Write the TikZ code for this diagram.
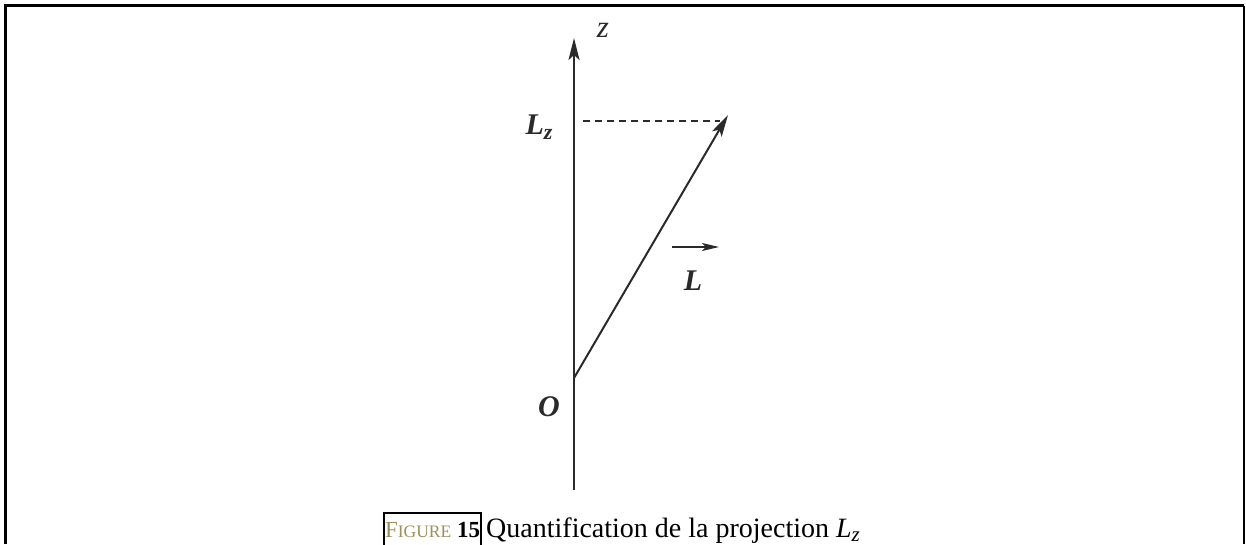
\documentclass[tikz,border=0pt]{standalone}
\usepackage{fontspec}
\setmainfont{Liberation Serif}
\usetikzlibrary{arrows.meta}
\definecolor{axisgray}{HTML}{2A2A2A}
\definecolor{figgold}{HTML}{9C8F5C}
\tikzset{
  axisline/.style={draw=axisgray, line width=2.4pt},
  arrowtip/.style={-{Stealth[length=22pt,width=11pt,inset=5pt]}},
  lbl/.style={font=\fontsize{30}{34}\selectfont\bfseries\itshape, text=axisgray, inner sep=0pt},
  frameline/.style={draw=black, line width=3pt}
}
\begin{document}
\begin{tikzpicture}[x=1pt,y=-1pt]
\useasboundingbox (0,0) rectangle (1246,544);
% outer frame (open at the bottom)
\coordinate (fbl) at (5.5,544);
\coordinate (ftl) at (5.5,5.5);
\coordinate (ftr) at (1244,5.5);
\coordinate (fbr) at (1244,544);
\draw[frameline] (fbl) -- (ftl) -- (ftr);
\draw[draw=black, line width=2pt] (ftr) -- (fbr);
% axis
\coordinate (zbot) at (574,490);
\coordinate (ztop) at (574,38);
\draw[axisline, arrowtip] (zbot) -- (ztop);
\node[font=\fontsize{31}{34}\selectfont\itshape, text=axisgray, inner sep=0pt] (zl) at (603,30) {z};
% origin and vector
\coordinate (O) at (574,378);
\coordinate (Ltip) at (728,115);
\draw[axisline, line width=2pt, arrowtip] (O) -- (Ltip);
\node[lbl] (Ol) at (549,407) {O};
% projection
\coordinate (dashs) at (583,121);
\coordinate (dashe) at (720,121);
\draw[axisgray, line width=2pt, dash pattern=on 7pt off 5pt] (dashs) -- (dashe);
\node[lbl] (Lz) at (539,127) {L\raisebox{-0.35ex}{\fontsize{22}{24}\selectfont z}};
% vector label
\coordinate (vs) at (672,247);
\coordinate (ve) at (719,247);
\draw[axisgray, line width=1.8pt, -{Stealth[length=17pt,width=8pt,inset=4pt]}] (vs) -- (ve);
\node[lbl] (Ll) at (693,281) {L};
% caption
\node[draw=black, line width=2pt, inner xsep=1pt, inner ysep=3pt, anchor=north west, minimum height=34pt, font=\fontsize{23}{27}\selectfont] (fig) at (383,512)
  {\textcolor{figgold}{F\fontsize{17.5}{20}\selectfont IGURE} \textbf{15}};
\node[anchor=base west, inner sep=0pt, font=\fontsize{28}{32}\selectfont] (cap) at ([xshift=4pt]fig.base east)
  {Quantification de la projection \textit{L}\raisebox{-0.3ex}{\fontsize{21}{22}\selectfont\textit{z}}};
\end{tikzpicture}
\end{document}
